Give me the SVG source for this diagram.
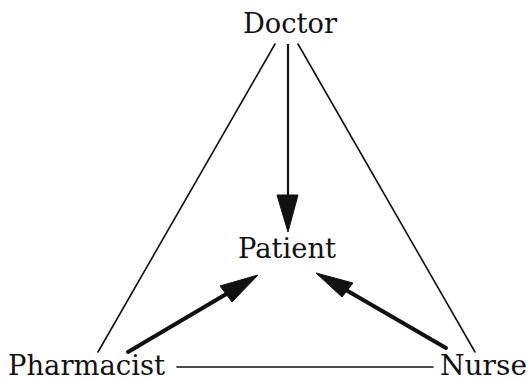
<svg xmlns="http://www.w3.org/2000/svg" width="529" height="380" viewBox="0 0 529 380">
<style>
.lbl{font-family:"DejaVu Serif","Liberation Serif",serif;font-size:27px;fill:#111}
.thin{stroke:#111;stroke-width:1.6;fill:none;stroke-linecap:round}
.mid{stroke:#111;stroke-width:2.2;fill:none}
.thick{stroke:#111;stroke-width:4;fill:none;stroke-linecap:round}
.head{fill:#111;stroke:#111;stroke-width:1;stroke-linejoin:round}
</style>
<rect width="529" height="380" fill="#fff"/>
<g id="connectors">
<line class="thin" x1="275" y1="44" x2="98" y2="352"/>
<line class="thin" x1="298" y1="44" x2="475" y2="352"/>
<line class="thin" x1="177" y1="367" x2="433" y2="367"/>
<line class="mid" x1="288" y1="44" x2="288" y2="197"/>
<polygon class="head" points="277,195 298,195 288,232"/>
<line class="thick" x1="128" y1="352" x2="228" y2="293"/>
<polygon class="head" points="220,286 232,302 258,275"/>
<line class="thick" x1="446" y1="348" x2="346" y2="290"/>
<polygon class="head" points="353,283 342,297 316,273"/>
</g>
<g id="doctor"><text class="lbl" x="243" y="33" textLength="94" lengthAdjust="spacingAndGlyphs">Doctor</text></g>
<g id="patient"><text class="lbl" x="238" y="258" textLength="98" lengthAdjust="spacingAndGlyphs">Patient</text></g>
<g id="pharmacist"><text class="lbl" x="8" y="375" textLength="157" lengthAdjust="spacingAndGlyphs">Pharmacist</text></g>
<g id="nurse"><text class="lbl" x="440" y="375" textLength="87" lengthAdjust="spacingAndGlyphs">Nurse</text></g>
</svg>
